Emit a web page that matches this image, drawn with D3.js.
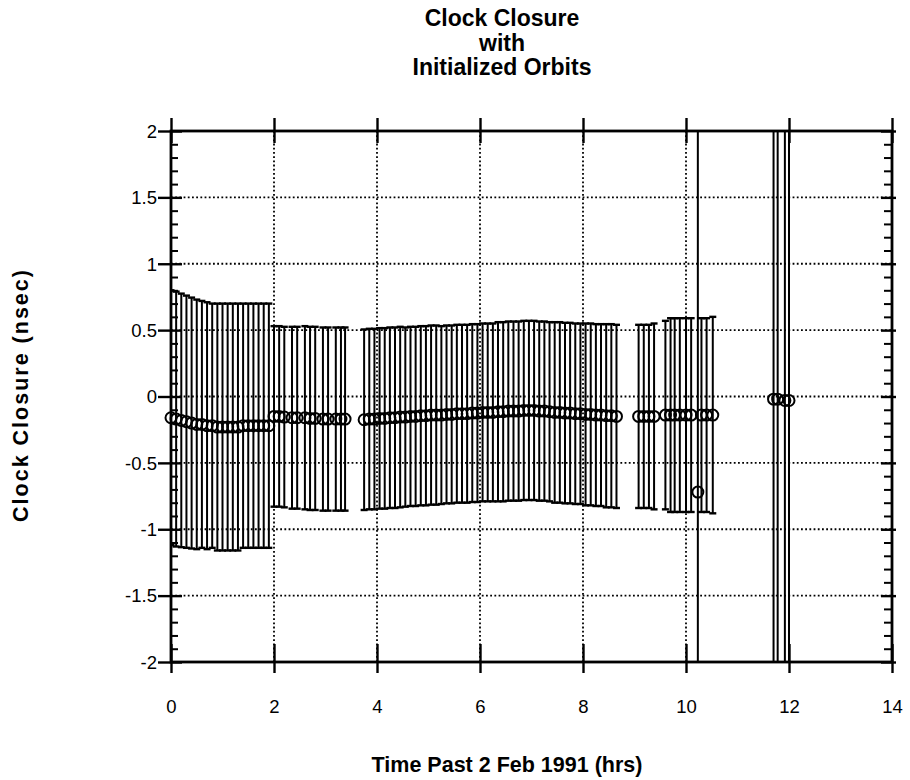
<!DOCTYPE html>
<html>
<head>
<meta charset="utf-8">
<script src="https://cdn.jsdelivr.net/npm/d3@7"></script>
<style>
  body { margin: 0; background: #fff; }
  svg { display: block; }
  text { font-family: "Liberation Sans", Arial, Helvetica, sans-serif; fill: #000; }
</style>
</head>
<body>
<svg id="chart" width="910" height="780"></svg>
<script>
// ---------------- data ----------------
const titleLines = ["Clock Closure", "with", "Initialized Orbits"];
const xLabel = "Time Past 2 Feb 1991 (hrs)";
const yLabel = "Clock Closure (nsec)";
const xTicks = [0, 2, 4, 6, 8, 10, 12, 14];
const yTicks = [-2, -1.5, -1, -0.5, 0, 0.5, 1, 1.5, 2];

// pass 1
const t1 = [0.0,0.1,0.2,0.3,0.4,0.5,0.6,0.7,0.8,0.9,1.0,1.1,1.2,1.3,1.4,1.5,1.6,1.7,1.8,1.9];
const c1 = [-0.16,-0.17,-0.18,-0.19,-0.20,-0.21,-0.21,-0.22,-0.22,-0.23,-0.23,-0.23,-0.23,-0.23,-0.22,-0.22,-0.22,-0.22,-0.22,-0.22];
const e1 = [0.96,0.96,0.955,0.95,0.945,0.94,0.93,0.93,0.92,0.93,0.93,0.93,0.93,0.93,0.92,0.92,0.92,0.92,0.92,0.92];
// pass 2
const t2 = [2.0,2.1,2.2,2.35,2.45,2.6,2.7,2.8,2.95,3.05,3.2,3.3,3.38];
const c2 = [-0.15,-0.15,-0.155,-0.16,-0.16,-0.16,-0.165,-0.165,-0.17,-0.17,-0.17,-0.17,-0.17];
const e2 = [0.68,0.68,0.68,0.685,0.685,0.69,0.69,0.69,0.69,0.69,0.69,0.69,0.69];
// pass 3
const t3 = [3.75,3.85,3.95,4.05,4.15,4.25,4.35,4.45,4.55,4.65,
            4.75,4.85,4.95,5.05,5.15,5.25,5.35,5.45,5.55,5.65,
            5.75,5.85,5.95,6.05,6.15,6.25,6.35,6.45,6.55,6.65,
            6.75,6.85,6.95,7.05,7.15,7.25,7.35,7.45,7.55,7.65,
            7.75,7.85,7.95,8.05,8.15,8.25,8.35,8.45,8.55,8.65];
const c3 = [-0.175,-0.17,-0.17,-0.165,-0.165,-0.16,-0.16,-0.155,-0.155,-0.15,
            -0.15,-0.145,-0.145,-0.14,-0.14,-0.14,-0.135,-0.135,-0.13,-0.13,
            -0.13,-0.125,-0.125,-0.12,-0.12,-0.12,-0.115,-0.115,-0.11,-0.11,
            -0.11,-0.105,-0.105,-0.105,-0.11,-0.11,-0.115,-0.12,-0.12,-0.125,
            -0.125,-0.13,-0.13,-0.135,-0.135,-0.14,-0.14,-0.145,-0.145,-0.15];
const e3 = [0.68,0.68,0.68,0.68,0.68,0.68,0.68,0.68,0.675,0.675,
            0.675,0.675,0.675,0.675,0.675,0.67,0.67,0.67,0.67,0.67,
            0.67,0.67,0.67,0.67,0.67,0.67,0.675,0.675,0.675,0.675,
            0.675,0.675,0.675,0.675,0.675,0.675,0.675,0.68,0.68,0.68,
            0.68,0.68,0.68,0.685,0.685,0.685,0.685,0.69,0.69,0.69];
// pass 4
const t4 = [9.08,9.18,9.28,9.38,9.6,9.7,9.78,9.88,10.0,10.1,10.3,10.4,10.52];
const c4 = [-0.15,-0.15,-0.15,-0.15,-0.14,-0.14,-0.14,-0.14,-0.14,-0.14,-0.14,-0.14,-0.14];
const e4 = [0.69,0.69,0.69,0.70,0.71,0.73,0.73,0.73,0.73,0.73,0.73,0.73,0.74];
// isolated points with very large error bars
const t5 = [10.23, 11.70, 11.78, 11.92, 12.00];
const c5 = [-0.72, -0.02, -0.02, -0.03, -0.03];
const e5 = [3.5, 4.0, 4.0, 4.0, 4.0];

// ---------------- layout ----------------
const svg = d3.select("#chart");
const L = 171, R = 892, T = 131, B = 662;
const x = d3.scaleLinear().domain([0, 14]).range([L, R]);
const y = d3.scaleLinear().domain([-2, 2]).range([B, T]);
const fmt = d => String(d);

const points = [];
[[t1,c1,e1],[t2,c2,e2],[t3,c3,e3],[t4,c4,e4],[t5,c5,e5]].forEach(([t,c,e]) => {
  t.forEach((v, i) => points.push({t: v, c: c[i], e: e[i]}));
});

// clip
svg.append("defs").append("clipPath").attr("id", "plotclip")
  .append("rect").attr("x", L).attr("y", T).attr("width", R - L).attr("height", B - T);

// ---------------- grid ----------------
const grid = svg.append("g").attr("stroke", "#000").attr("stroke-width", 1.8)
  .attr("stroke-dasharray", "1.8,2.4");
grid.selectAll(".gx").data(xTicks.filter(d => d > 0 && d < 14)).join("line")
  .attr("x1", d => x(d)).attr("x2", d => x(d)).attr("y1", T).attr("y2", B);
grid.selectAll(".gy").data(yTicks.filter(d => d > -2 && d < 2)).join("line")
  .attr("x1", L).attr("x2", R).attr("y1", d => y(d)).attr("y2", d => y(d));

// ---------------- error bars ----------------
const marks = svg.append("g").attr("clip-path", "url(#plotclip)");
const cap = 3.5;
marks.selectAll(".eb").data(points).join("line")
  .attr("x1", d => x(d.t)).attr("x2", d => x(d.t))
  .attr("y1", d => y(d.c + d.e)).attr("y2", d => y(d.c - d.e))
  .attr("stroke", "#000").attr("stroke-width", 2);
marks.selectAll(".capT").data(points).join("line")
  .attr("x1", d => x(d.t) - cap).attr("x2", d => x(d.t) + cap)
  .attr("y1", d => y(d.c + d.e)).attr("y2", d => y(d.c + d.e))
  .attr("stroke", "#000").attr("stroke-width", 2.4);
marks.selectAll(".capB").data(points).join("line")
  .attr("x1", d => x(d.t) - cap).attr("x2", d => x(d.t) + cap)
  .attr("y1", d => y(d.c - d.e)).attr("y2", d => y(d.c - d.e))
  .attr("stroke", "#000").attr("stroke-width", 2.4);
svg.append("g").selectAll("circle").data(points).join("circle")
  .attr("cx", d => x(d.t)).attr("cy", d => y(d.c)).attr("r", 5.5)
  .attr("fill", "none").attr("stroke", "#000").attr("stroke-width", 2);

// ---------------- axes ----------------
function styleAxis(g) {
  g.select(".domain").remove();
  g.selectAll("line").attr("stroke", "#000").attr("stroke-width", 2.4);
}
const yMinor = d3.range(-20, 21).map(d => d / 10).filter(d => Math.abs(d * 2 - Math.round(d * 2)) > 1e-6);

// left
const gl = svg.append("g").attr("transform", `translate(${L},0)`)
  .call(d3.axisLeft(y).tickValues(yTicks).tickSize(13).tickPadding(1).tickFormat(fmt));
styleAxis(gl);
gl.selectAll(".tick line").attr("x1", 11);
gl.selectAll(".tick text").attr("font-size", 18.5).attr("dy", "0.34em");
const glm = svg.append("g").attr("transform", `translate(${L},0)`)
  .call(d3.axisRight(y).tickValues(yMinor).tickSize(7).tickFormat(""));
styleAxis(glm);
glm.selectAll("line").attr("stroke-width", 2);

// right
const gr = svg.append("g").attr("transform", `translate(${R},0)`)
  .call(d3.axisRight(y).tickValues(yTicks).tickSize(4).tickFormat(""));
styleAxis(gr);
gr.selectAll(".tick line").attr("x1", -11);
const grm = svg.append("g").attr("transform", `translate(${R},0)`)
  .call(d3.axisLeft(y).tickValues(yMinor).tickSize(8).tickFormat(""));
styleAxis(grm);
grm.selectAll("line").attr("stroke-width", 2);

// bottom
const gb = svg.append("g").attr("transform", `translate(0,${B})`)
  .call(d3.axisBottom(x).tickValues(xTicks).tickSize(11).tickPadding(27).tickFormat(fmt));
styleAxis(gb);
gb.selectAll(".tick line").attr("y1", -18);
gb.selectAll(".tick text").attr("font-size", 18.5);

// top
const gt = svg.append("g").attr("transform", `translate(0,${T})`)
  .call(d3.axisTop(x).tickValues(xTicks).tickSize(13).tickFormat(""));
styleAxis(gt);
gt.selectAll(".tick line").attr("y1", 12);

// frame
svg.append("rect").attr("x", L).attr("y", T).attr("width", R - L).attr("height", B - T)
  .attr("fill", "none").attr("stroke", "#000").attr("stroke-width", 2.8);

// ---------------- text ----------------
svg.append("g").selectAll("text").data(titleLines).join("text")
  .attr("x", 502).attr("y", (d, i) => 26 + i * 24.5)
  .attr("text-anchor", "middle").attr("font-size", 23).attr("font-weight", "bold")
  .text(d => d);

svg.append("text").attr("x", 507).attr("y", 772)
  .attr("text-anchor", "middle").attr("font-size", 21.5).attr("font-weight", "bold")
  .text(xLabel);

svg.append("text").attr("transform", "translate(28,395) rotate(-90)")
  .attr("text-anchor", "middle").attr("font-size", 21.5).attr("font-weight", "bold")
  .attr("letter-spacing", 2)
  .text(yLabel);
</script>
</body>
</html>
